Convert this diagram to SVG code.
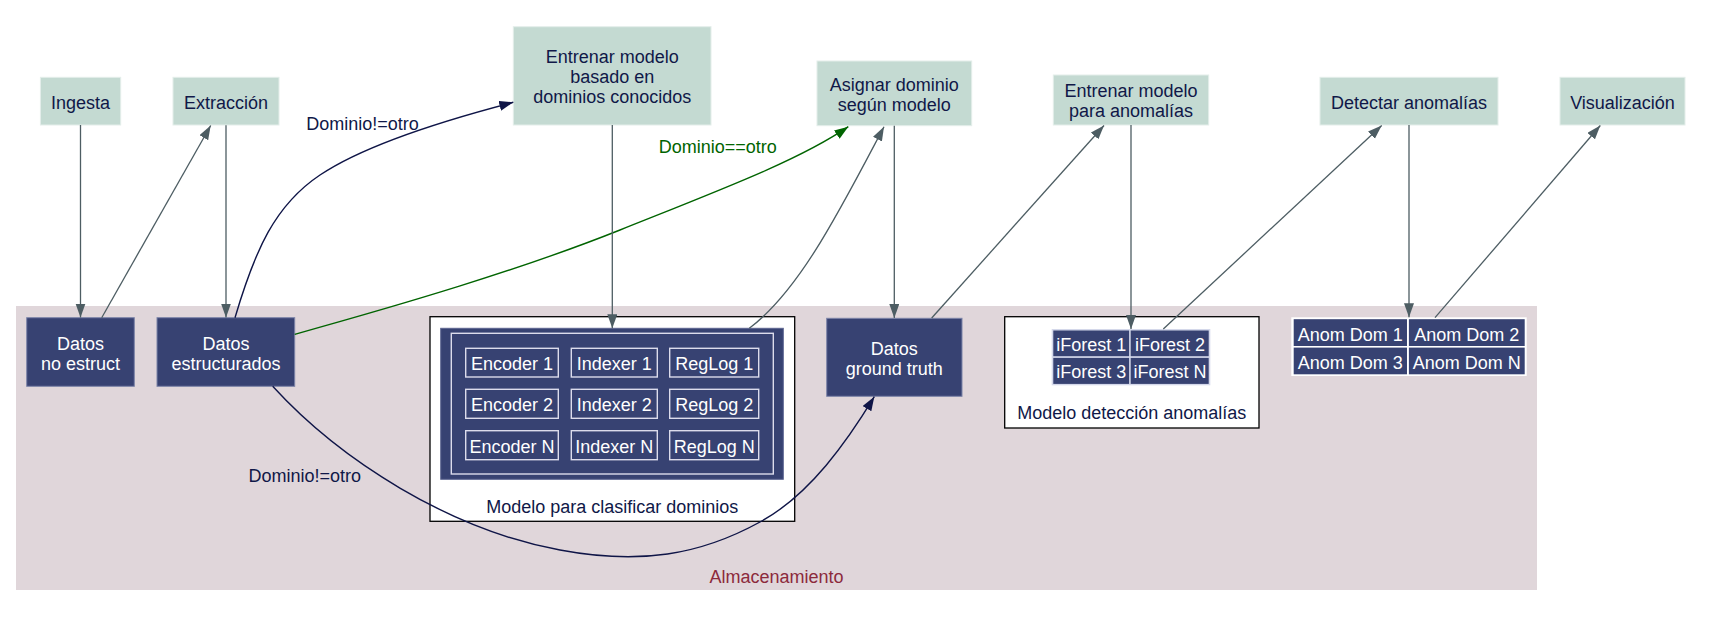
<svg xmlns="http://www.w3.org/2000/svg" width="1713" height="630" viewBox="0 0 1713 630">
<style>
text{font-family:"Liberation Sans",Arial,Helvetica,sans-serif;font-size:18px;text-anchor:middle}
.lt{fill:#c4dad2;stroke:#e4eeea;stroke-width:1}
.lbl{fill:#101848}
.dk{fill:#374272;stroke:#7c84a8;stroke-width:1}
.wt{fill:#ffffff}
.cell{fill:none;stroke:#dcdcec;stroke-width:1.4}
.cl{fill:#ffffff;stroke:#000000;stroke-width:1.3}
.e{fill:none;stroke:#4d5d63;stroke-width:1.3}
.en{fill:none;stroke:#0f1547;stroke-width:1.4}
.eg{fill:none;stroke:#006400;stroke-width:1.4}
</style>
<defs>
<marker id="ag" markerUnits="userSpaceOnUse" markerWidth="16" markerHeight="12" refX="14" refY="5" orient="auto"><path d="M0,0 L14,5 L0,10 z" fill="#4d5d63"/></marker>
<marker id="an" markerUnits="userSpaceOnUse" markerWidth="16" markerHeight="12" refX="14" refY="5" orient="auto"><path d="M0,0 L14,5 L0,10 z" fill="#0f1547"/></marker>
<marker id="agr" markerUnits="userSpaceOnUse" markerWidth="16" markerHeight="12" refX="14" refY="5" orient="auto"><path d="M0,0 L14,5 L0,10 z" fill="#006400"/></marker>
</defs>
<rect width="1713" height="630" fill="#ffffff"/>

<g id="cluster_almacenamiento">
<rect x="16" y="306" width="1521" height="284" fill="#e0d6da"/>
<text x="776.5" y="582.7" fill="#8c2a3c">Almacenamiento</text>
</g>

<g id="ingesta"><rect class="lt" x="40.4" y="77.3" width="80.3" height="47.7"/><text class="lbl" x="80.5" y="108.7">Ingesta</text></g>
<g id="extraccion"><rect class="lt" x="173" y="77.3" width="106" height="47.7"/><text class="lbl" x="226" y="108.7">Extracción</text></g>
<g id="entrenar_dominios"><rect class="lt" x="513.3" y="26.7" width="197.7" height="98.3"/><text class="lbl" x="612.2" y="63.3">Entrenar modelo</text><text class="lbl" x="612.2" y="83.3">basado en</text><text class="lbl" x="612.2" y="103.3">dominios conocidos</text></g>
<g id="asignar"><rect class="lt" x="817" y="61" width="154.7" height="64.7"/><text class="lbl" x="894.3" y="90.7">Asignar dominio</text><text class="lbl" x="894.3" y="110.7">según modelo</text></g>
<g id="entrenar_anomalias"><rect class="lt" x="1053.3" y="75" width="155.4" height="50"/><text class="lbl" x="1131" y="97.3">Entrenar modelo</text><text class="lbl" x="1131" y="117.3">para anomalías</text></g>
<g id="detectar"><rect class="lt" x="1320" y="77.3" width="178" height="47.7"/><text class="lbl" x="1409" y="109">Detectar anomalías</text></g>
<g id="visualizacion"><rect class="lt" x="1560" y="77.3" width="125" height="47.7"/><text class="lbl" x="1622.5" y="109">Visualización</text></g>

<g id="datos_no_estruct"><rect class="dk" x="26.7" y="317.7" width="107.6" height="68.6"/><text class="wt" x="80.5" y="350">Datos</text><text class="wt" x="80.5" y="370">no estruct</text></g>
<g id="datos_estructurados"><rect class="dk" x="157" y="317.7" width="137.7" height="68.6"/><text class="wt" x="226" y="350">Datos</text><text class="wt" x="226" y="370">estructurados</text></g>
<g id="datos_ground_truth"><rect class="dk" x="826.7" y="318.3" width="135.3" height="78"/><text class="wt" x="894.3" y="355">Datos</text><text class="wt" x="894.3" y="375">ground truth</text></g>

<g id="modelo_clasificar">
<rect class="cl" x="430" y="316.7" width="364.7" height="204.6"/>
<rect x="440.7" y="328.3" width="342.6" height="151" fill="#374272" stroke="#5c6590" stroke-width="1"/>
<rect class="cell" x="451.3" y="333.3" width="322" height="140.7"/>
<rect class="cell" x="465.7" y="348.3" width="92.6" height="28.7"/>
<rect class="cell" x="571.3" y="348.3" width="86" height="28.7"/>
<rect class="cell" x="669.7" y="348.3" width="89" height="28.7"/>
<rect class="cell" x="465.7" y="389.3" width="92.6" height="29"/>
<rect class="cell" x="571.3" y="389.3" width="86" height="29"/>
<rect class="cell" x="669.7" y="389.3" width="89" height="29"/>
<rect class="cell" x="465.7" y="430.7" width="92.6" height="29"/>
<rect class="cell" x="571.3" y="430.7" width="86" height="29"/>
<rect class="cell" x="669.7" y="430.7" width="89" height="29"/>
<text class="wt" x="512" y="370.2">Encoder 1</text><text class="wt" x="614.3" y="370.2">Indexer 1</text><text class="wt" x="714.2" y="370.2">RegLog 1</text>
<text class="wt" x="512" y="411.3">Encoder 2</text><text class="wt" x="614.3" y="411.3">Indexer 2</text><text class="wt" x="714.2" y="411.3">RegLog 2</text>
<text class="wt" x="512" y="452.7">Encoder N</text><text class="wt" x="614.3" y="452.7">Indexer N</text><text class="wt" x="714.2" y="452.7">RegLog N</text>
<text class="lbl" x="612.3" y="513">Modelo para clasificar dominios</text>
</g>

<g id="modelo_anomalias">
<rect class="cl" x="1004.7" y="316.7" width="254.3" height="111.3"/>
<rect x="1051.7" y="329" width="158.6" height="56.3" fill="#d4d8ea"/>
<rect x="1053.3" y="330.5" width="75.8" height="25.7" fill="#374272"/>
<rect x="1130.7" y="330.5" width="78" height="25.7" fill="#374272"/>
<rect x="1053.3" y="357.9" width="75.8" height="26" fill="#374272"/>
<rect x="1130.7" y="357.9" width="78" height="26" fill="#374272"/>
<text class="wt" x="1091.2" y="350.5">iForest 1</text><text class="wt" x="1170" y="350.5">iForest 2</text>
<text class="wt" x="1091.2" y="378.3">iForest 3</text><text class="wt" x="1170" y="378.3">iForest N</text>
<text class="lbl" x="1131.8" y="419.3">Modelo detección anomalías</text>
</g>

<g id="anomalias_dominio">
<rect x="1291.3" y="317.3" width="235.4" height="58.7" fill="#ffffff"/>
<rect x="1293.7" y="319.2" width="113.3" height="26.8" fill="#374272"/>
<rect x="1408.9" y="319.2" width="115.8" height="26.8" fill="#374272"/>
<rect x="1293.7" y="347.6" width="113.3" height="26.7" fill="#374272"/>
<rect x="1408.9" y="347.6" width="115.8" height="26.7" fill="#374272"/>
<text class="wt" x="1350.3" y="340.7">Anom Dom 1</text><text class="wt" x="1466.7" y="340.7">Anom Dom 2</text>
<text class="wt" x="1350.3" y="368.7">Anom Dom 3</text><text class="wt" x="1466.7" y="368.7">Anom Dom N</text>
</g>

<g id="connectors">
<path class="e" d="M80.5,125 L80.5,317.5" marker-end="url(#ag)"/>
<path class="e" d="M101.7,317.7 L210.7,125.5" marker-end="url(#ag)"/>
<path class="e" d="M226,125.3 L226,317.5" marker-end="url(#ag)"/>
<path class="en" d="M235,317.7 C255,250 275,205 320,175 C360,148 430,124 513.3,102.3" marker-end="url(#an)"/>
<text x="362.5" y="130" fill="#101848">Dominio!=otro</text>
<path class="eg" d="M294.7,334.3 C400,305 520,270 620,230 C720,190 800,160 848.3,126.7" marker-end="url(#agr)"/>
<text x="717.8" y="153.3" fill="#006400">Dominio==otro</text>
<path class="e" d="M612.3,125 L612.3,328.3" marker-end="url(#ag)"/>
<path class="e" d="M749.3,328.3 C800,290 840,210 884,126.7" marker-end="url(#ag)"/>
<path class="e" d="M894.3,125.7 L894.3,318" marker-end="url(#ag)"/>
<path class="e" d="M931.7,318 L1104,125.5" marker-end="url(#ag)"/>
<path class="e" d="M1131,125 L1131,329" marker-end="url(#ag)"/>
<path class="e" d="M1163.3,329 L1381.7,125.5" marker-end="url(#ag)"/>
<path class="e" d="M1409,125 L1409,317.3" marker-end="url(#ag)"/>
<path class="e" d="M1435,317.7 L1600.3,125.5" marker-end="url(#ag)"/>
<path class="en" d="M272.7,386.3 C340,460 450,530 560,550 C640,565 700,555 760,522 C810,495 848,440 874.3,396.7" marker-end="url(#an)"/>
<text x="304.7" y="481.5" fill="#101848">Dominio!=otro</text>
</g>
</svg>
